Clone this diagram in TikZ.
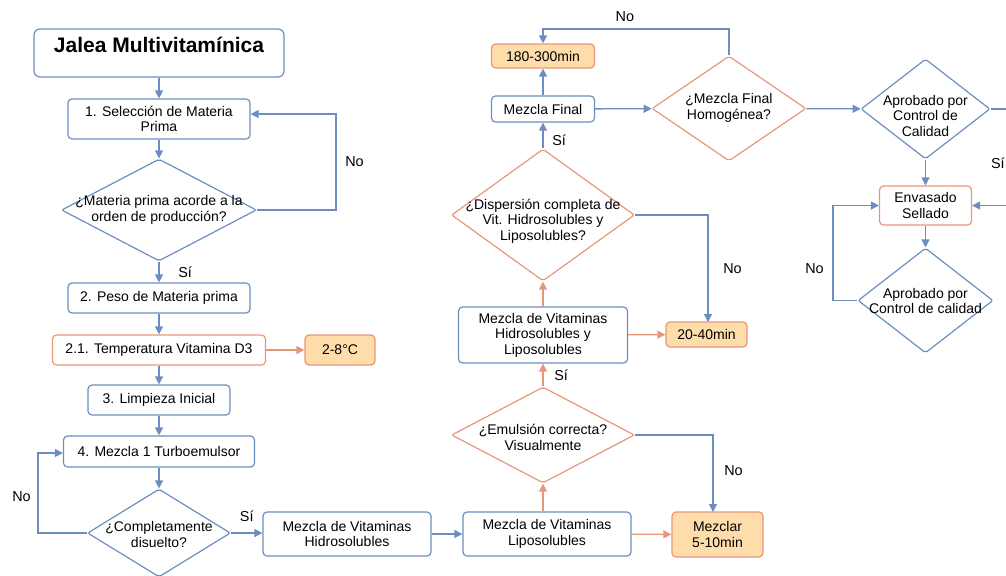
\documentclass[tikz,border=0pt]{standalone}
\usepackage{fontspec}
\setmainfont{Liberation Sans}
\usetikzlibrary{arrows.meta, shapes.geometric}

\definecolor{lineblue}{RGB}{108,142,191}
\definecolor{lineorange}{RGB}{232,150,122}
\definecolor{fillorange}{RGB}{255,221,170}

% text of a diamond, it does not widen the shape
\newcommand{\dtxt}[2][-1.8pt]{\raisebox{#1}[0pt][0pt]{\makebox[0pt]{\begin{tabular}{@{}c@{}}#2\end{tabular}}}}

\begin{document}
\begin{tikzpicture}[
	x=0.5pt, y=-0.5pt,
	font=\fontsize{7}{7.8}\selectfont,
	dims/.style 2 args={minimum width=#1*0.5pt, minimum height=#2*0.5pt},
	block/.style={rectangle, rounded corners=2pt, draw=lineblue, line width=0.6pt, align=center, inner sep=1pt},
	oblock/.style={block, draw=lineorange},
	tbox/.style={block, draw=lineorange, fill=fillorange},
	title/.style={block, rounded corners=3pt, font=\fontsize{10.5}{12}\selectfont\bfseries, inner ysep=0pt, text height=11.5pt, text depth=12.5pt},
	decision/.style={diamond, draw=lineblue, line width=0.6pt, inner sep=0pt, rounded corners=1pt},
	odecision/.style={decision, draw=lineorange},
	arrow/.style={-{Triangle[length=4pt, width=4pt]}, draw=lineblue, line width=0.65pt},
	oarrow/.style={arrow, draw=lineorange, fill=lineorange},
	lbl/.style={font=\fontsize{7.2}{8}\selectfont}
]
	\useasboundingbox (0,0) rectangle (1006,575);

	% First column
	\node[title, dims={250}{48}] (title) at (159,53) {Jalea Multivitamínica};
	\node[block, dims={182}{40}] (sel) at (159,119) {1. Selección de Materia\\Prima};
	\node[decision, dims={195}{102}] (dmat) at (159,210) {\dtxt{¿Materia prima acorde a la\\orden de producción?}};
	\node[block, dims={182}{30}] (peso) at (159,298) {2. Peso de Materia prima};
	\node[oblock, dims={213}{30}] (temp) at (159,350) {2.1. Temperatura Vitamina D3};
	\node[tbox, dims={70}{30}] (tval) at (340,350) {2-8°C};
	\node[block, dims={142}{30}] (limp) at (159,400) {3. Limpieza Inicial};
	\node[block, dims={191}{31}] (turbo) at (159,451.5) {4. Mezcla 1 Turboemulsor};
	\node[decision, dims={143}{88}] (ddis) at (159,533) {\dtxt[-3.5pt]{¿Completamente\\disuelto?}};

	% Bottom row
	\node[block, dims={168}{44}] (hidro) at (347,534) {Mezcla de Vitaminas\\Hidrosolubles};
	\node[block, dims={168}{44}] (lipo) at (547,534) {Mezcla de Vitaminas\\Liposolubles};
	\node[tbox, dims={91}{45}] (mez) at (717.5,534.5) {Mezclar\\5-10min};

	% Second column
	\node[odecision, dims={183}{96}] (demu) at (543,435) {\dtxt[-4pt]{¿Emulsión correcta?\\Visualmente}};
	\node[block, dims={169}{56}] (hl) at (543,335) {Mezcla de Vitaminas\\Hidrosolubles y\\Liposolubles};
	\node[tbox, dims={81}{25}] (tdis) at (706.5,334.5) {20-40min};
	\node[odecision, dims={183}{132}] (ddisp) at (543,215) {\dtxt[-5pt]{¿Dispersión completa de\\Vit. Hidrosolubles y\\Liposolubles?}};
	\node[block, dims={103}{26}] (final) at (543,109) {Mezcla Final};
	\node[tbox, dims={103}{24}] (tfin) at (543,56) {180-300min};
	\node[odecision, dims={154}{105}] (dhom) at (729,108.5) {\dtxt{¿Mezcla Final\\Homogénea?}};

	% Third column
	\node[decision, dims={129}{100}] (dcal) at (925.5,109) {\dtxt[-6pt]{Aprobado por\\Control de\\Calidad}};
	\node[oblock, dims={92}{39}] (env) at (925.5,205.5) {Envasado\\Sellado};
	\node[decision, dims={135}{105}] (dcal2) at (925.5,300.5) {\dtxt[-3pt]{Aprobado por\\Control de calidad}};

	% Loop corners
	\coordinate (c1) at (336,114);
	\coordinate (c2) at (38,453);
	\coordinate (c3) at (713,512);
	\coordinate (c4) at (708,322);
	\coordinate (c5) at (543,29);
	\coordinate (c6) at (1018,205.5);
	\coordinate (c7) at (833,205.5);

	% Arrows
	\draw[arrow] (title) -- (sel);
	\draw[arrow] (sel) -- (dmat);
	\draw[arrow] (dmat.east) -| (c1) node[lbl, pos=0.75, right=1pt]{No} -- (sel.east |- c1);
	\draw[arrow] (dmat) -- node[lbl, right=6pt]{Sí} (peso);
	\draw[arrow] (peso) -- (temp);
	\draw[oarrow] (temp) -- (tval);
	\draw[arrow] (temp) -- (limp);
	\draw[arrow] (limp) -- (turbo);
	\draw[arrow] (turbo) -- (ddis);
	\draw[arrow] (ddis.west) -| (c2) node[lbl, pos=0.725, left=0pt]{No} -- (turbo.west |- c2);
	\draw[arrow] (ddis.east) -- node[lbl, above=2pt]{Sí} (hidro.west |- ddis.east);
	\draw[arrow] (hidro) -- (lipo);
	\draw[oarrow] (lipo) -- (mez);
	\draw[oarrow] (lipo.north -| demu.south) -- (demu.south);
	\draw[arrow] (demu.east) -| node[lbl, pos=0.73, right=2pt]{No} (c3);
	\draw[oarrow] (demu) -- node[lbl, right=2pt]{Sí} (hl);
	\draw[oarrow] (hl) -- (tdis);
	\draw[oarrow] (hl) -- (ddisp);
	\draw[arrow] (ddisp.east) -| node[lbl, pos=0.75, right=4pt]{No} (c4);
	\draw[arrow] (ddisp) -- node[lbl, pos=0.3, right=1pt]{Sí} (final);
	\draw[arrow] (final) -- (tfin);
	\draw[arrow] (final) -- (dhom);
	\draw[arrow] (dhom.north) |- (c5) node[lbl, pos=0.78, above=0pt]{No} -- (tfin.north);
	\draw[arrow] (dhom) -- (dcal);
	\draw[arrow] (dcal.east) -| (c6) node[lbl, pos=0.78, left=3pt]{Sí} -- (env.east);
	\draw[arrow] (dcal) -- (env);
	\draw[arrow] (env) -- (dcal2);
	\draw[arrow] (dcal2.west) -| (c7) node[lbl, pos=0.67, left=1pt]{No} -- (env.west);
\end{tikzpicture}
\end{document}
